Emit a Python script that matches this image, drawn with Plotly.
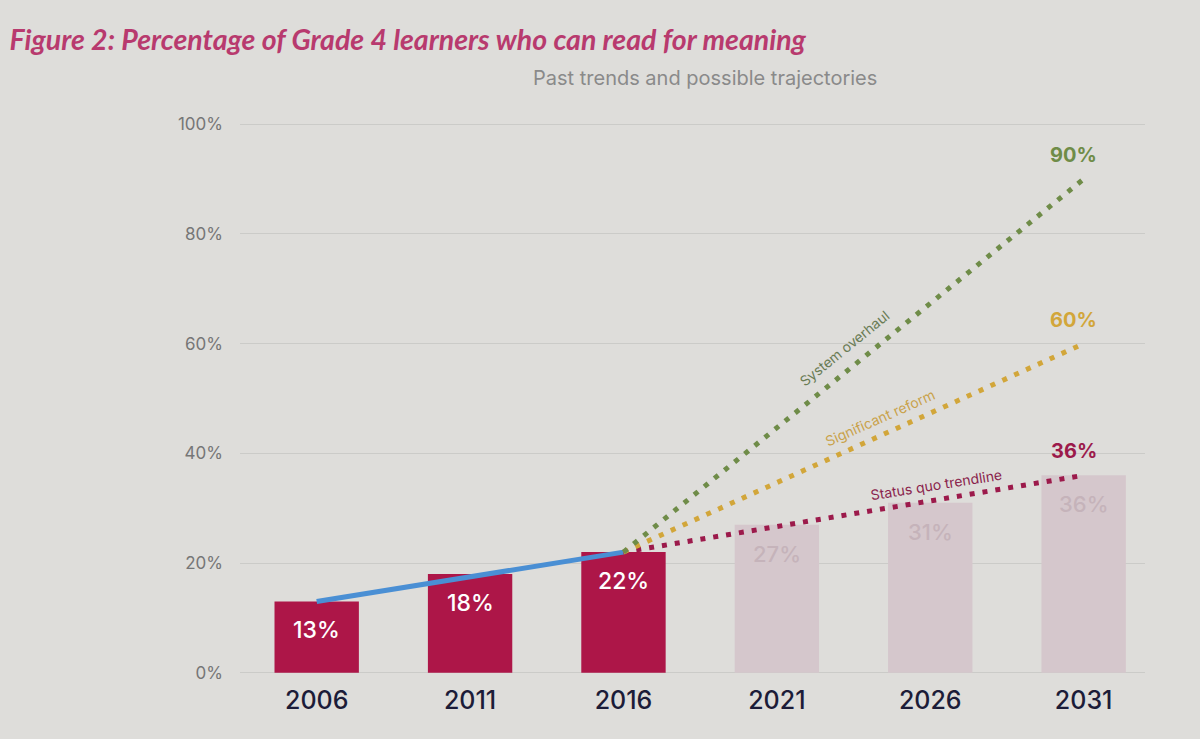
import plotly.graph_objects as go

# data
years_past = [2006, 2011, 2016]
pct_past = [13, 18, 22]
years_future = [2021, 2026, 2031]
pct_future = [27, 31, 36]

trend_years = [2006, 2016]
trend_pct = [13, 22]

scenario_years = [2016, 2031]
status_quo = [22, 36]
significant_reform = [22, 60]
system_overhaul = [22, 90]

y_ticks = [0, 20, 40, 60, 80, 100]
x_ticks = [2006, 2011, 2016, 2021, 2026, 2031]

BG = "#deddda"
CRIMSON = "#ad1648"
GREEN = "#6f8c48"
YELLOW = "#d2a63a"
RED = "#9c1a4b"

fig = go.Figure()

fig.add_trace(go.Bar(
    x=years_future, y=pct_future, width=2.75,
    marker=dict(color="#d5c7cc", line=dict(width=0)),
    hoverinfo="skip",
))
fig.add_trace(go.Bar(
    x=years_past, y=pct_past, width=2.75,
    marker=dict(color=CRIMSON, line=dict(width=0)),
))

# bar value labels, a little below the top of each bar
for xs, ys, col, sz in [(years_past, pct_past, "white", 23),
                        (years_future, pct_future, "#c5b3ba", 22)]:
    for x, y in zip(xs, ys):
        fig.add_annotation(x=x, y=y, text=f"{y}%", showarrow=False,
                           yanchor="middle", yshift=-29,
                           font=dict(color=col, size=sz, family="Inter", weight=500))

fig.add_trace(go.Scatter(
    x=trend_years, y=trend_pct, mode="lines",
    line=dict(color="#4a8fd4", width=5),
))

for vals, col in [(status_quo, RED), (significant_reform, YELLOW), (system_overhaul, GREEN)]:
    fig.add_trace(go.Scatter(
        x=scenario_years, y=vals, mode="lines",
        line=dict(color=col, width=5, dash="5px,8px"),
    ))

# end-of-line values
for vals, col in [(status_quo, RED), (significant_reform, YELLOW), (system_overhaul, GREEN)]:
    fig.add_annotation(
        x=scenario_years[-1], y=vals[-1], text=f"<b>{vals[-1]}%</b>",
        showarrow=False, yshift=24, xshift=-10,
        font=dict(color=col, size=20, family="Inter"),
    )

# labels along the scenario lines
fig.add_annotation(x=2023.6, y=22 + 68 * 7.6 / 15, text="System overhaul",
                   textangle=-39, showarrow=False, xshift=-13, yshift=15,
                   font=dict(color="#6a7c55", size=14, family="Inter"))
fig.add_annotation(x=2024.6, y=22 + 38 * 8.6 / 15, text="Significant reform",
                   textangle=-24, showarrow=False, xshift=-7, yshift=15,
                   font=dict(color="#c9a24a", size=14, family="Inter"))
fig.add_annotation(x=2026.2, y=22 + 14 * 10.2 / 15, text="Status quo trendline",
                   textangle=-9, showarrow=False, yshift=15,
                   font=dict(color="#8a1f4c", size=14, family="Inter"))

fig.add_annotation(xref="paper", yref="paper", x=0.514, y=1.105,
                   text="Past trends and possible trajectories", showarrow=False,
                   font=dict(color="#8a8a8a", size=20, family="Inter"))

fig.update_layout(
    width=1200, height=739,
    paper_bgcolor=BG, plot_bgcolor=BG,
    margin=dict(l=240, r=55, t=122, b=64),
    showlegend=False,
    barmode="overlay",
    title=dict(
        text="<b><i>Figure 2: Percentage of Grade 4 learners who can read for meaning</i></b>",
        x=0.008, xanchor="left", y=0.946, yref="container", yanchor="middle",
        font=dict(color="#b83a6e", size=28.5, family="Lato"),
    ),
    xaxis=dict(
        range=[2003.5, 2033], tickvals=x_ticks, ticktext=[str(t) for t in x_ticks],
        showgrid=False, zeroline=False, showline=False,
        tickfont=dict(color="#1c1c38", size=25, family="Inter", weight=500),
        ticklabelstandoff=8,
    ),
    yaxis=dict(
        range=[-0.4, 100.4], tickvals=y_ticks, ticktext=[f"{t}%" for t in y_ticks],
        showgrid=True, gridcolor="#cbcbc8", gridwidth=1, zeroline=False,
        tickfont=dict(color="#767676", size=17, family="Inter"),
        ticklabelstandoff=16,
    ),
)

fig.write_html("out.html", config={"displayModeBar": False},
               post_script="document.body.style.margin='0';")
